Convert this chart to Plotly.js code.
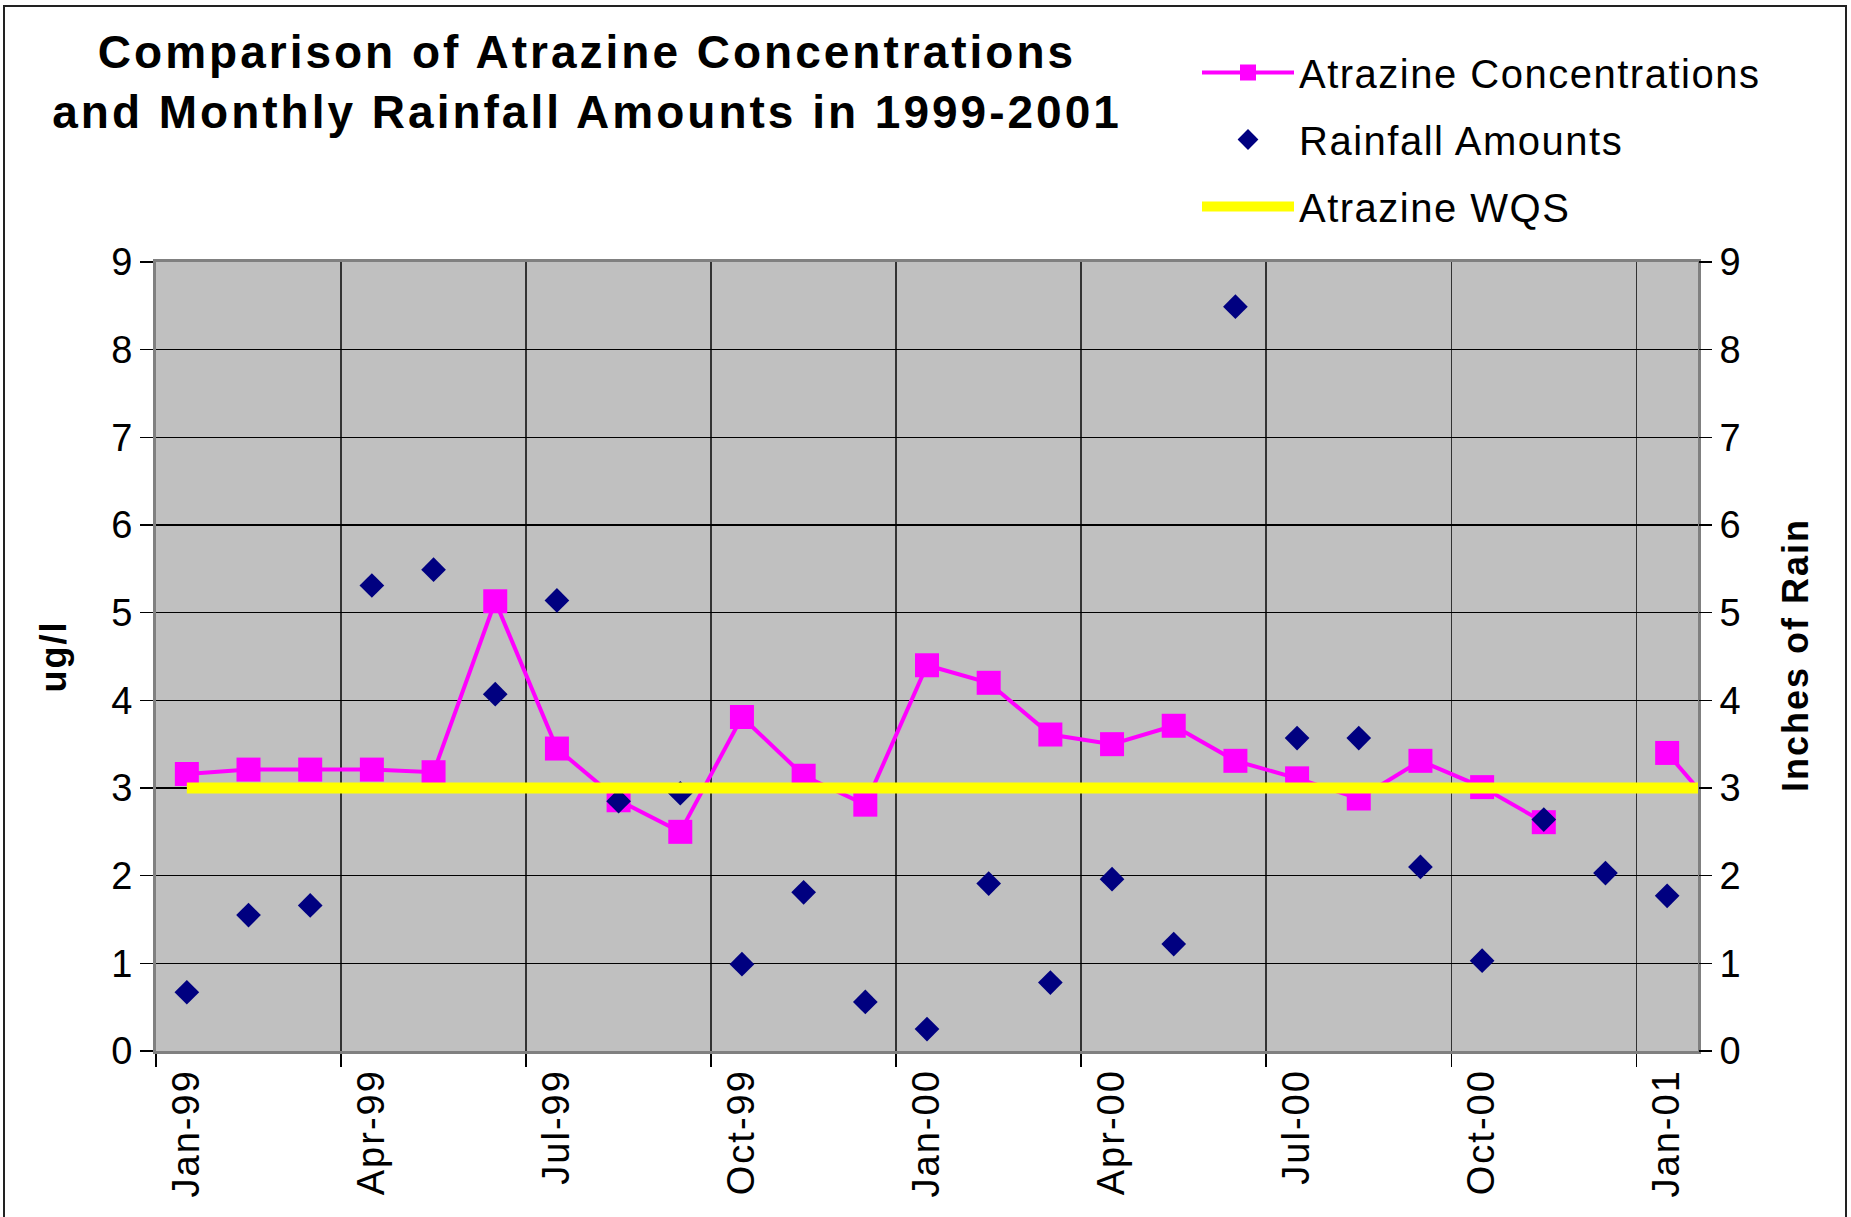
<!DOCTYPE html>
<html>
<head>
<meta charset="utf-8">
<script src="https://cdn.plot.ly/plotly-3.0.1.min.js"></script>
<style>
  html, body { margin: 0; padding: 0; background: #fff; }
  #chart { width: 1851px; height: 1217px; }
  .gtitle { letter-spacing: 3px; }
  .legendtext { letter-spacing: 1.5px; }
  .xtick text { letter-spacing: 2px; }
  .g-ytitle text, .annotation-text { letter-spacing: 2px; }
</style>
</head>
<body>
<div id="chart"></div>
<script>
// ---- data ----
var months = ['Jan-99','Feb-99','Mar-99','Apr-99','May-99','Jun-99','Jul-99','Aug-99','Sep-99','Oct-99','Nov-99','Dec-99',
              'Jan-00','Feb-00','Mar-00','Apr-00','May-00','Jun-00','Jul-00','Aug-00','Sep-00','Oct-00','Nov-00','Dec-00',
              'Jan-01','Feb-01'];
var atrazine = [3.16, 3.21, 3.21, 3.21, 3.18, 5.13, 3.45, 2.86, 2.50, 3.81, 3.14, 2.81,
                4.40, 4.20, 3.61, 3.50, 3.71, 3.31, 3.11, 2.88, 3.31, 3.01, 2.61, null,
                3.40, 2.58];
var rainfall = [0.67, 1.55, 1.66, 5.31, 5.49, 4.07, 5.14, 2.85, 2.94, 0.99, 1.81, 0.56,
                0.25, 1.91, 0.78, 1.96, 1.22, 8.49, 3.57, 3.57, 2.10, 1.03, 2.64, 2.03,
                1.77];
var wqs = [3, 3, 3, 3, 3, 3, 3, 3, 3, 3, 3, 3,
           3, 3, 3, 3, 3, 3, 3, 3, 3, 3, 3, 3,
           3, 3];
var seriesNames = ['Atrazine Concentrations', 'Rainfall Amounts', 'Atrazine WQS'];
var yTicks = [0, 1, 2, 3, 4, 5, 6, 7, 8, 9];
var leftTitle = 'ug/l';
var rightTitle = 'Inches of Rain';

// ---- layout constants ----
var W = 1851, H = 1217;
var M = {l: 156, r: 153, t: 262, b: 166, autoexpand: false};
var PW = W - M.l - M.r, PH = H - M.t - M.b;
var FONT = 'Arial, "Liberation Sans", sans-serif';

var traces = [
  {
    x: months, y: atrazine, name: seriesNames[0], type: 'scatter', mode: 'lines+markers',
    xaxis: 'x', yaxis: 'y', connectgaps: false, legendgroup: 'a',
    line: {color: '#ff00ff', width: 4},
    marker: {symbol: 'square', size: 24, color: '#ff00ff', line: {width: 0}}
  },
  {
    x: months.slice(0, rainfall.length), y: rainfall, name: seriesNames[1], type: 'scatter', mode: 'markers',
    xaxis: 'x', yaxis: 'y2', legendgroup: 'b',
    marker: {symbol: 'diamond', size: 19, color: '#000080', line: {width: 0}}
  },
  {
    x: months, y: wqs, name: seriesNames[2], type: 'scatter', mode: 'lines',
    xaxis: 'x', yaxis: 'y2', legendgroup: 'c',
    line: {color: '#ffff00', width: 11}
  }
];

var layout = {
  width: W, height: H,
  margin: M,
  paper_bgcolor: '#ffffff',
  plot_bgcolor: '#c0c0c0',
  font: {family: FONT, color: '#000000', size: 38},
  showlegend: true,
  title: {
    text: 'Comparison of Atrazine Concentrations<br>and Monthly Rainfall Amounts in 1999-2001',
    font: {family: FONT, size: 46, weight: 'bold', color: '#000'},
    xref: 'container', yref: 'container',
    x: 587 / W, xanchor: 'center',
    y: 1 - 68 / H, yanchor: 'middle'
  },
  legend: {
    xref: 'container', yref: 'container',
    x: 1197 / W, xanchor: 'left',
    y: 1 - 40 / H, yanchor: 'top',
    bgcolor: 'rgba(0,0,0,0)', borderwidth: 0,
    font: {family: FONT, size: 40, color: '#000'},
    itemwidth: 92, tracegroupgap: 12, traceorder: 'grouped'
  },
  xaxis: {
    type: 'category',
    range: [-0.5, 24.5],
    tickmode: 'linear', tick0: 0, dtick: 3,
    tickson: 'boundaries',
    tickangle: -90,
    ticks: 'outside', ticklen: 13, tickwidth: 1.5, tickcolor: '#000',
    showgrid: true, gridcolor: '#333333', gridwidth: 1.5,
    showline: true, linecolor: '#808080', linewidth: 3, mirror: true,
    tickfont: {family: FONT, size: 38, color: '#000'},
    zeroline: false, fixedrange: true, automargin: false
  },
  yaxis: {
    range: [0, 9], tickvals: yTicks,
    ticks: 'outside', ticklen: 13, tickwidth: 1.5, tickcolor: '#000',
    showgrid: true, gridcolor: '#000000', gridwidth: 1.2,
    showline: true, linecolor: '#808080', linewidth: 3, mirror: true,
    zeroline: false, automargin: false,
    tickfont: {family: FONT, size: 38, color: '#000'},
    title: {text: leftTitle, font: {family: FONT, size: 36, weight: 'bold', color: '#000'}, standoff: 34}
  },
  yaxis2: {
    overlaying: 'y', side: 'right',
    range: [0, 9], tickvals: yTicks,
    ticks: 'outside', ticklen: 13, tickwidth: 1.5, tickcolor: '#000',
    showgrid: false, showline: false, zeroline: false, automargin: false,
    tickfont: {family: FONT, size: 38, color: '#000'}
  },
  annotations: [
    {
      text: rightTitle, textangle: -90, showarrow: false,
      xref: 'paper', yref: 'paper',
      x: (1795 - M.l) / PW, y: (M.t + PH - 655) / PH,
      xanchor: 'center', yanchor: 'middle',
      font: {family: FONT, size: 36, weight: 'bold', color: '#000'}
    }
  ],
  shapes: [
    {
      type: 'rect', xref: 'paper', yref: 'paper', layer: 'below',
      x0: (4 - M.l) / PW, x1: (W - 5 - M.l) / PW,
      y0: -(H + 20 - (M.t + PH)) / PH, y1: (M.t + PH - 6) / PH,
      line: {color: '#222', width: 2}, fillcolor: 'rgba(0,0,0,0)'
    }
  ]
};

Plotly.newPlot('chart', traces, layout, {displayModeBar: false, staticPlot: true});
</script>
</body>
</html>
